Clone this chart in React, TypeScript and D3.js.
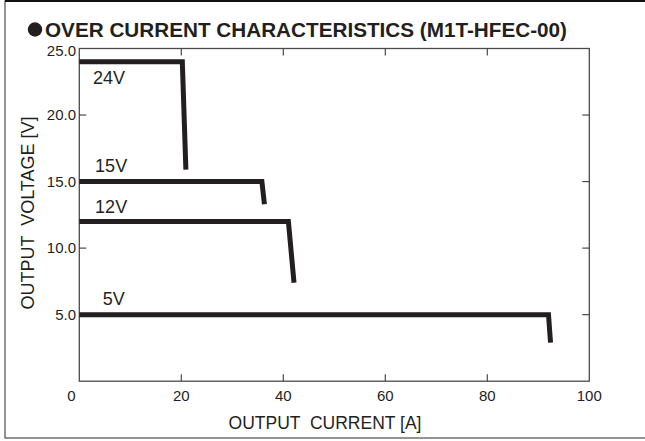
import React from "react";
import * as d3 from "d3";

const title = "OVER CURRENT CHARACTERISTICS (M1T-HFEC-00)";
const xTitle = "OUTPUT  CURRENT [A]";
const yTitle = "OUTPUT  VOLTAGE [V]";

const xTicks = [0, 20, 40, 60, 80, 100];
const yTicks = [5, 10, 15, 20, 25];
const yTickLabels = ["5.0", "10.0", "15.0", "20.0", "25.0"];

const seriesNames = ["24V", "15V", "12V", "5V"];
const series24V: [number, number][] = [[0, 24], [20.2, 24], [20.9, 15.9]];
const series15V: [number, number][] = [[0, 15], [35.8, 15], [36.3, 13.3]];
const series12V: [number, number][] = [[0, 12], [41.0, 12], [42.1, 7.4]];
const series5V: [number, number][] = [[0, 5], [92.0, 5], [92.4, 2.9]];
const allSeries = [series24V, series15V, series12V, series5V];

// label placement: x in data units, vertical pixel offset of baseline from line
const labelX = [2.7, 3.1, 3.1, 4.6];
const labelDy = [22, -10, -9, -10];

const W = 645;
const H = 441;
const left = 79.3;
const right = 589.3;
const top = 48.5;
const bottom = 381.2;

const ink = "#231f20";
const font = "'Liberation Sans', Arial, sans-serif";

export default function App() {
  const x = d3.scaleLinear().domain([0, 100]).range([left, right]);
  const y = d3.scaleLinear().domain([0, 25]).range([bottom, top]);
  const line = d3
    .line<[number, number]>()
    .x((d) => x(d[0]))
    .y((d) => y(d[1]));
  const tickLen = 7;
  const innerX = xTicks.filter((t) => t > 0 && t < 100);
  const innerY = yTicks.filter((t) => t > 0 && t < 25);

  return (
    <svg
      width={W}
      height={H}
      style={{ position: "absolute", left: 0, top: 0, background: "#fff" }}
      fontFamily={font}
    >
      <rect x={0} y={0} width={W} height={H} fill="#fff" />
      {/* outer frame */}
      <rect x={5} y={1} width={W} height={437} fill="none" stroke="#5a5a5a" strokeWidth={1.3} />
      <line x1={5} x2={W} y1={1} y2={1} stroke="#111" strokeWidth={2} />

      {/* title */}
      <circle cx={35} cy={29.5} r={7.2} fill={ink} />
      <text
        x={45}
        y={37}
        fontSize={20.5}
        fontWeight="bold"
        fill={ink}
        textLength={522}
        lengthAdjust="spacingAndGlyphs"
      >
        {title}
      </text>

      {/* plot frame */}
      <rect
        x={left}
        y={top}
        width={right - left}
        height={bottom - top}
        fill="none"
        stroke="#4a4a4a"
        strokeWidth={1.3}
      />
      {innerX.map((t) => (
        <g key={"xt" + t}>
          <line x1={x(t)} x2={x(t)} y1={top} y2={top + tickLen} stroke="#4a4a4a" strokeWidth={1.2} />
          <line x1={x(t)} x2={x(t)} y1={bottom} y2={bottom - tickLen} stroke="#4a4a4a" strokeWidth={1.2} />
        </g>
      ))}
      {innerY.map((t) => (
        <g key={"yt" + t}>
          <line x1={left} x2={left + tickLen} y1={y(t)} y2={y(t)} stroke="#4a4a4a" strokeWidth={1.2} />
          <line x1={right} x2={right - tickLen} y1={y(t)} y2={y(t)} stroke="#4a4a4a" strokeWidth={1.2} />
        </g>
      ))}

      {/* x tick labels */}
      {xTicks.map((t) => (
        <text
          key={"xl" + t}
          x={t === 0 ? x(t) - 8 : x(t)}
          y={400.5}
          fontSize={15}
          textAnchor="middle"
          fill={ink}
        >
          {t}
        </text>
      ))}
      {/* y tick labels */}
      {yTicks.map((t, i) => (
        <text
          key={"yl" + t}
          x={76}
          y={y(t) + 5.3 + (t === 25 ? 2.5 : 0)}
          fontSize={15}
          textAnchor="end"
          fill={ink}
        >
          {yTickLabels[i]}
        </text>
      ))}

      {/* axis titles */}
      <text x={325} y={429.3} fontSize={17.5} textAnchor="middle" fill={ink} style={{ whiteSpace: "pre" }}>
        {xTitle}
      </text>
      <text
        transform={`translate(34,213) rotate(-90)`}
        fontSize={18}
        textAnchor="middle"
        fill={ink}
        style={{ whiteSpace: "pre" }}
      >
        {yTitle}
      </text>

      {/* series */}
      {allSeries.map((s, i) => (
        <path
          key={"s" + i}
          d={line(s) || ""}
          fill="none"
          stroke={ink}
          strokeWidth={5}
          strokeLinejoin="miter"
          strokeLinecap="butt"
        />
      ))}
      {allSeries.map((s, i) => (
        <text key={"lab" + i} x={x(labelX[i])} y={y(s[0][1]) + labelDy[i]} fontSize={18} fill={ink}>
          {seriesNames[i]}
        </text>
      ))}
    </svg>
  );
}
